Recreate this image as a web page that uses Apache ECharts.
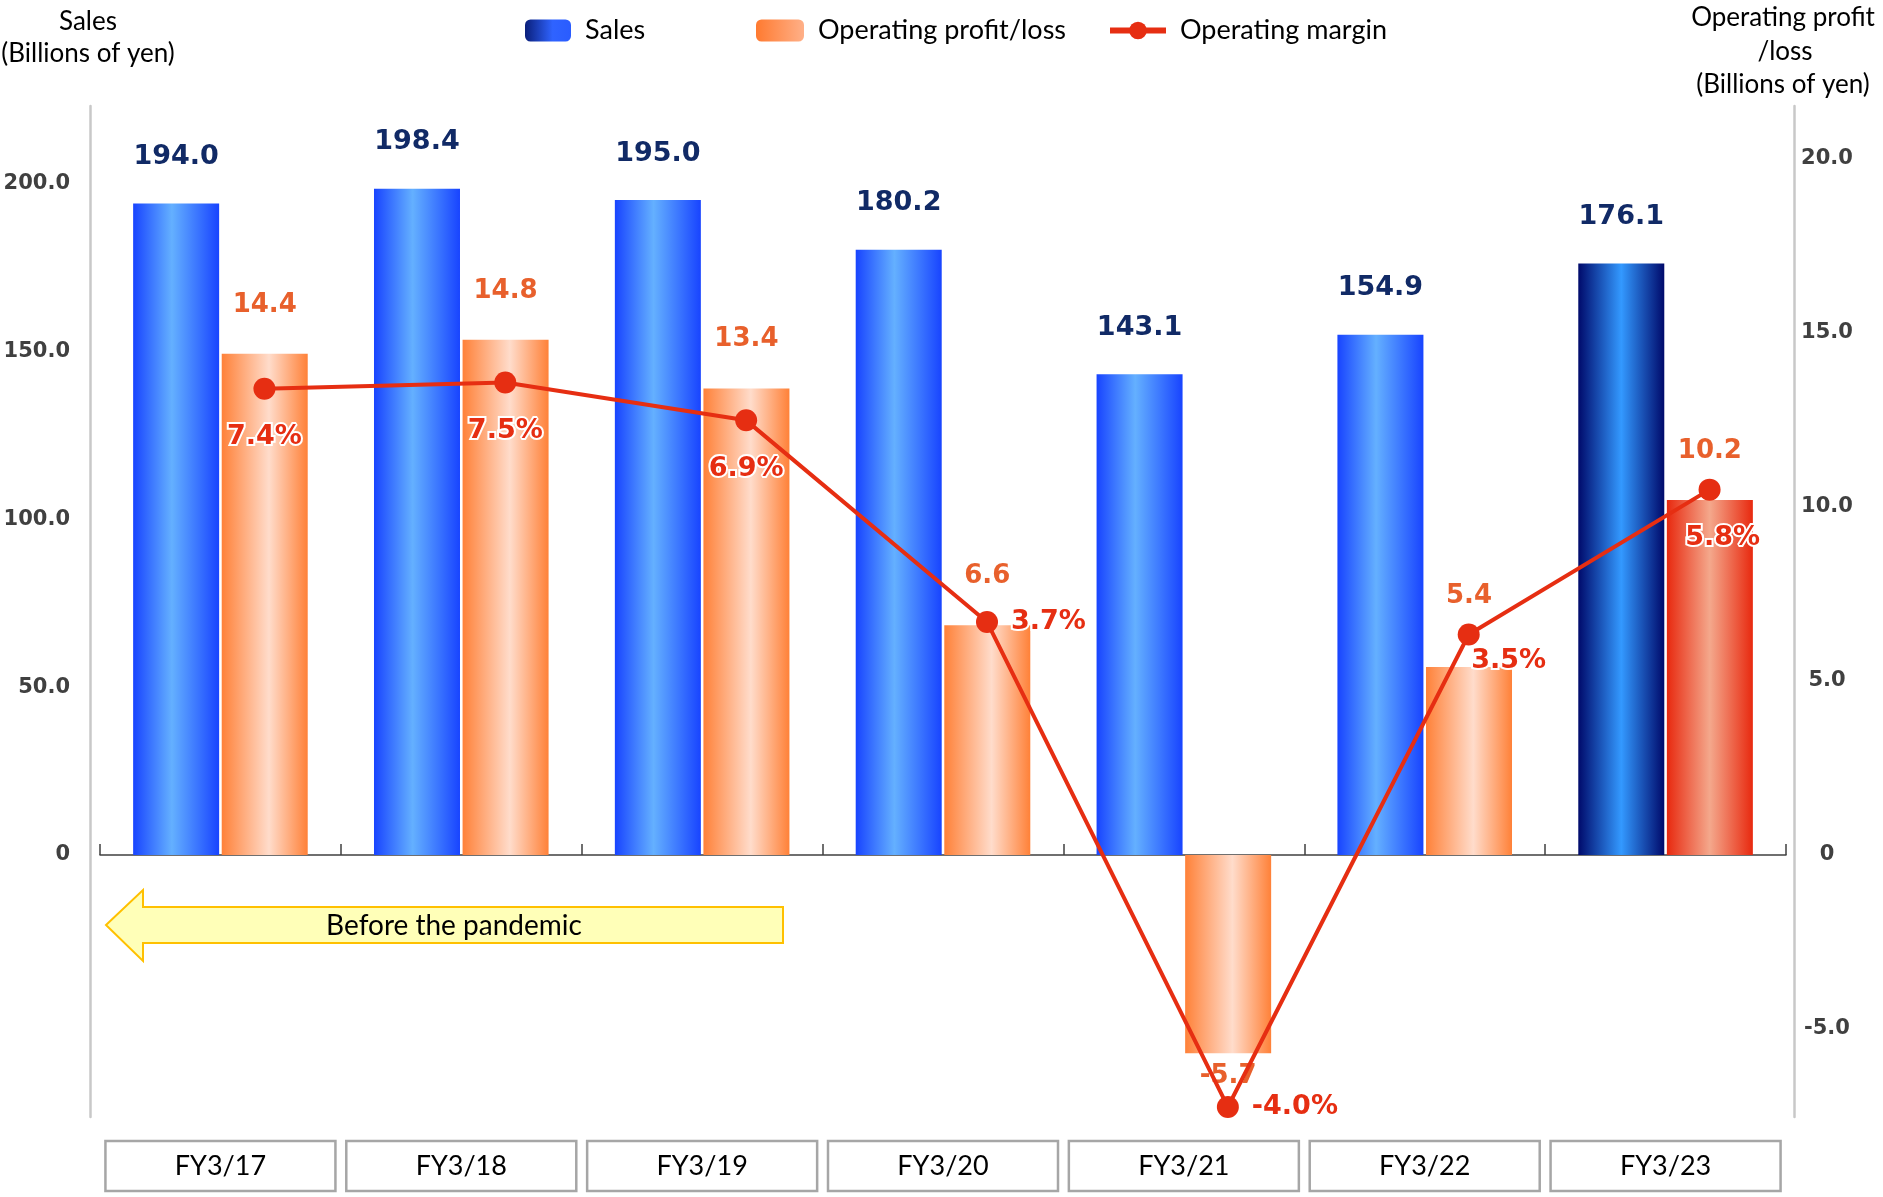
<!DOCTYPE html>
<html><head><meta charset="utf-8">
<script src="https://cdn.jsdelivr.net/npm/echarts@6/dist/echarts.min.js"></script>
<style>html,body{margin:0;padding:0;background:#fff}#c{width:1883px;height:1197px}</style>
</head><body><div id="c"></div>
<script>
// ---- data ----
const categories = ['FY3/17','FY3/18','FY3/19','FY3/20','FY3/21','FY3/22','FY3/23'];
const sales = [194.0, 198.4, 195.0, 180.2, 143.1, 154.9, 176.1];
const operatingProfit = [14.4, 14.8, 13.4, 6.6, -5.7, 5.4, 10.2];
const operatingMargin = [7.4, 7.5, 6.9, 3.7, -4.0, 3.5, 5.8];
const seriesNames = ['Sales', 'Operating profit/loss', 'Operating margin'];

// ---- styles ----
const NARROW = "Lato, 'Open Sans', sans-serif";
const BOLD = "'DejaVu Sans', Verdana, sans-serif";
const marginLabelPos = ['bottom','bottom','bottom','right','right','bottom','bottom'];
const marginLabelOffset = [[0,0],[0,0],[0,0],[0,0],[0,0],[40,-22],[13,0]];
const opLabelDistance = [36,36,36,36,10,58,36];

function hGrad(edge, mid, at) {
  return new echarts.graphic.LinearGradient(0,0,1,0,[
    {offset:0,color:edge},{offset:at,color:mid},{offset:1,color:edge}]);
}
const blueGrad = () => hGrad('#1844ff', '#64b0ff', 0.45);
const navyGrad = () => hGrad('#000a6b', '#3399ff', 0.5);
const orangeGrad = () => hGrad('#ff8138', '#ffdccb', 0.55);
const redGrad = () => hGrad('#e8290f', '#f4a88c', 0.5);
const last = categories.length - 1;

const chart = echarts.init(document.getElementById('c'), null, {renderer:'canvas'});

const gridTop = 106, gridBottom = 80, gridLeft = 100, gridRight = 97, lineShift = 44;

function fmt(step) {
  return v => {
    if (Math.abs(v / step - Math.round(v / step)) > 1e-6) return '';
    if (Math.abs(v) < 1e-9) return '0';
    return v.toFixed(1);
  };
}
function fmtLeft(v) { return v < -1e-9 ? '' : fmt(50)(v); }

const legendText = {fontFamily: NARROW, fontSize: 27, color: '#000', padding: [0,0,0,9]};

const option = {
  backgroundColor: '#ffffff',
  animation: false,
  grid: [
    {left: gridLeft, right: gridRight, top: gridTop, bottom: gridBottom},
    {left: gridLeft + lineShift, right: gridRight - lineShift, top: gridTop, bottom: gridBottom}
  ],
  legend: [
    {data: [{name: seriesNames[0], itemStyle: {color: new echarts.graphic.LinearGradient(0,0,1,0,[{offset:0,color:'#0a1f7a'},{offset:0.6,color:'#2f63ff'},{offset:1,color:'#2a5cff'}])}}],
     left: 520, top: 12, itemWidth: 46, itemHeight: 22, textStyle: legendText},
    {data: [{name: seriesNames[1], itemStyle: {color: new echarts.graphic.LinearGradient(0,0,1,0,[{offset:0,color:'#ff7a30'},{offset:1,color:'#ffb088'}])}}],
     left: 751, top: 12, itemWidth: 48, itemHeight: 22, textStyle: legendText},
    {data: [{name: seriesNames[2], lineStyle: {width: 6}}], left: 1102, top: 12, itemWidth: 56, itemHeight: 22,
     textStyle: legendText}
  ],
  xAxis: [
    {type: 'category', gridIndex: 0, data: categories, position: 'bottom',
     axisLine: {show: false, onZero: false}, axisTick: {show: false},
     axisLabel: {margin: 24, fontFamily: NARROW, fontSize: 27, color: '#000',
       width: 230, height: 50, lineHeight: 50, align: 'center', verticalAlign: 'top',
       borderColor: '#a6a6a6', borderWidth: 2.5, padding: 0}},
    {type: 'category', gridIndex: 0, data: categories, position: 'bottom',
     axisLine: {show: true, onZero: true, onZeroAxisIndex: 0, lineStyle: {color: '#404040', width: 1.5}},
     axisTick: {show: true, inside: true, length: 11, lineStyle: {color: '#404040', width: 1.5}},
     axisLabel: {show: false}},
    {type: 'category', gridIndex: 1, data: categories, show: false}
  ],
  yAxis: [
    {type: 'value', gridIndex: 0, position: 'left', min: -78, max: 223, splitNumber: 6, offset: 10,
     axisLine: {show: true, lineStyle: {color: '#c8c8c8', width: 2.5}}, axisTick: {show: false},
     splitLine: {show: false},
     axisLabel: {formatter: fmtLeft, margin: 20, fontFamily: BOLD, fontWeight: 'bold', fontSize: 21, color: '#404040'}},
    {type: 'value', gridIndex: 0, position: 'right', min: -7.53, max: 21.52, splitNumber: 6, offset: 8,
     axisLine: {show: true, lineStyle: {color: '#c8c8c8', width: 2.5}}, axisTick: {show: false},
     splitLine: {show: false},
     axisLabel: {formatter: fmt(5), margin: 33, align: 'center', fontFamily: BOLD, fontWeight: 'bold', fontSize: 21, color: '#404040'}},
    {type: 'value', gridIndex: 1, min: -4.159, max: 11.89, show: false, splitLine: {show: false}}
  ],
  series: [
    {name: seriesNames[0], type: 'bar', xAxisIndex: 0, yAxisIndex: 0, barWidth: 86, barGap: '3%', z: 2,
     data: sales.map((v, i) => ({value: v, itemStyle: {color: i === last ? navyGrad() : blueGrad()}})),
     itemStyle: {color: blueGrad()},
     label: {show: true, position: 'top', distance: 33, formatter: p => p.value.toFixed(1),
       fontFamily: BOLD, fontWeight: 'bold', fontSize: 27, color: '#112a66'}},
    {name: seriesNames[1], type: 'bar', xAxisIndex: 0, yAxisIndex: 1, barWidth: 86, barGap: '3%', z: 2,
     data: operatingProfit.map((v, i) => ({value: v,
       itemStyle: {color: i === last ? redGrad() : orangeGrad()},
       label: {position: v < 0 ? 'bottom' : 'top', distance: opLabelDistance[i]}})),
     itemStyle: {color: orangeGrad()},
     label: {show: true, formatter: p => p.value.toFixed(1),
       fontFamily: BOLD, fontWeight: 'bold', fontSize: 26, color: '#e8602c'}},
    {name: seriesNames[2], type: 'line', xAxisIndex: 2, yAxisIndex: 2, z: 5,
     symbol: 'circle', symbolSize: 22,
     lineStyle: {color: '#e62e12', width: 4}, itemStyle: {color: '#e62e12'},
     data: operatingMargin.map((v, i) => ({value: v,
       label: {position: marginLabelPos[i], offset: marginLabelOffset[i],
               distance: marginLabelPos[i] === 'right' ? 13 : 24}})),
     label: {show: true, formatter: p => p.value.toFixed(1) + '%',
       fontFamily: BOLD, fontWeight: 'bold', fontSize: 27, color: '#e62e12',
       textBorderColor: '#ffffff', textBorderWidth: 4}}
  ],
  graphic: [
    {type: 'text', x: 88, y: 22, style: {text: 'Sales', font: "26px " + NARROW, fill: '#000', textAlign: 'center', textVerticalAlign: 'middle'}},
    {type: 'text', x: 88, y: 54, style: {text: '(Billions of yen)', font: "26px " + NARROW, fill: '#000', textAlign: 'center', textVerticalAlign: 'middle'}},
    {type: 'text', x: 1783, y: 18, style: {text: 'Operating profit', font: "26px " + NARROW, fill: '#000', textAlign: 'center', textVerticalAlign: 'middle'}},
    {type: 'text', x: 1785, y: 52, style: {text: '/loss', font: "26px " + NARROW, fill: '#000', textAlign: 'center', textVerticalAlign: 'middle'}},
    {type: 'text', x: 1783, y: 85, style: {text: '(Billions of yen)', font: "26px " + NARROW, fill: '#000', textAlign: 'center', textVerticalAlign: 'middle'}},
    {type: 'polygon', z: 1,
     shape: {points: [[106,925],[143,890],[143,907],[783,907],[783,943],[143,943],[143,961]]},
     style: {fill: '#ffffb8', stroke: '#ffc000', lineWidth: 2}},
    {type: 'text', z: 2, x: 454, y: 926, style: {text: 'Before the pandemic', font: "28px " + NARROW, fill: '#000', textAlign: 'center', textVerticalAlign: 'middle'}}
  ]
};
chart.setOption(option);
</script>
</body></html>
